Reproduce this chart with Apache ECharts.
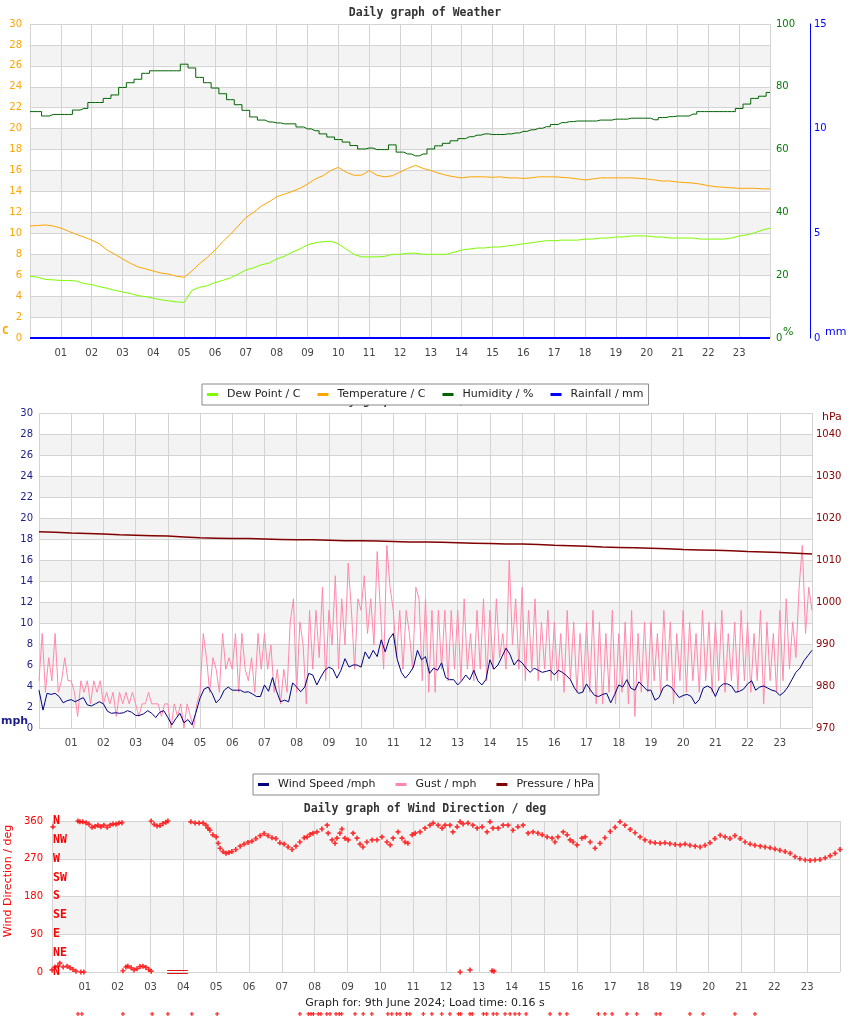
<!DOCTYPE html>
<html><head><meta charset="utf-8">
<script src="https://cdn.jsdelivr.net/npm/echarts@6/dist/echarts.min.js"></script>
<style>html,body{margin:0;padding:0;background:#fff}#c{width:850px;height:1017px}</style>
</head><body><div id="c"></div>
<script>
// ---------- DATA ----------
const hourLabels = ['01','02','03','04','05','06','07','08','09','10','11','12','13','14','15','16','17','18','19','20','21','22','23'];
const compassLabels = ['N','NE','E','SE','S','SW','W','NW','N'];

// weather chart, one reading every 0.25 h (0..24)
const dewPoint = [5.9,5.8,5.6,5.55,5.5,5.5,5.45,5.2,5.1,4.9,
 4.75,4.55,4.4,4.25,4.05,3.95,3.8,3.65,3.55,3.45,
 3.4,4.55,4.85,5.0,5.3,5.5,5.75,6.1,6.5,6.7,
 7.0,7.15,7.55,7.8,8.2,8.5,8.9,9.1,9.2,9.25,
 9.0,8.5,8.0,7.75,7.75,7.75,7.8,8.0,8.0,8.1,
 8.1,8.0,8.0,8.0,8.0,8.2,8.4,8.5,8.6,8.6,
 8.7,8.7,8.8,8.9,9.0,9.1,9.2,9.3,9.3,9.35,
 9.35,9.35,9.45,9.45,9.55,9.55,9.65,9.65,9.75,9.75,
 9.75,9.65,9.65,9.55,9.55,9.55,9.55,9.45,9.45,9.45,
 9.45,9.55,9.75,9.85,10.05,10.3,10.5];
const temperature = [10.7,10.75,10.8,10.7,10.5,10.2,9.9,9.65,9.35,9.0,
 8.4,8.0,7.55,7.15,6.8,6.6,6.4,6.2,6.1,5.9,
 5.8,6.4,7.1,7.7,8.4,9.2,9.9,10.7,11.5,12.0,
 12.6,13.0,13.5,13.75,14.0,14.3,14.7,15.2,15.5,16.0,
 16.3,15.85,15.55,15.55,16.0,15.55,15.4,15.5,15.85,16.2,
 16.5,16.2,16.0,15.75,15.55,15.4,15.3,15.4,15.4,15.4,
 15.35,15.4,15.3,15.3,15.25,15.3,15.4,15.4,15.4,15.35,
 15.3,15.2,15.1,15.2,15.3,15.3,15.3,15.3,15.3,15.25,
 15.2,15.1,15.0,15.0,14.9,14.85,14.8,14.7,14.55,14.45,
 14.4,14.35,14.3,14.3,14.3,14.25,14.25];
const humidity = [72.1,72.1,70.7,71.2,71.2,71.2,72.6,73.1,75,75,
 76.3,77.4,79.8,81.3,82.4,84.3,85.1,85.1,85.1,85.1,
 87.2,86,83,81.3,79.6,77.8,75.9,74.3,72.5,70.4,
 69.4,68.8,68.5,68.2,68.2,67.2,66.6,66,65,64,
 63.2,62.4,61.3,60.2,60.5,60,60,61.5,59.2,58.6,
 58,58.6,60.2,61.2,62,62.8,63.5,64.1,64.6,65,
 64.8,64.8,65,65.3,65.8,66.3,66.8,67.3,68,68.6,
 68.9,69.1,69.1,69.1,69.4,69.4,69.7,69.7,70,70,
 70,69.5,70.2,70.5,70.7,70.7,71.3,72.1,72.1,72.1,
 72.1,72.1,73.1,74.5,76.3,77,78.2];
const rainfall = [0,0,0,0,0,0,0,0,0,0,0,0,0,0,0,0,0,0,0,0,0,0,0,0,0,0,0,0,0,0,0,0,0,0,0,0,0,0,0,0,0,0,0,0,0,0,0,0,0];

// wind chart: speed every 0.125 h, gust every 0.1 h, pressure every 0.5 h
const windSpeed = [3.6,1.7,3.3,3.2,3.3,3.0,2.4,2.6,2.7,2.5,2.7,2.9,2.2,2.1,2.3,2.5,2.3,1.6,1.4,1.45,
 1.4,1.45,1.65,1.5,1.2,1.2,1.35,1.65,1.4,1.0,1.5,1.65,1.0,0.3,0.9,1.4,0.5,0.8,0.3,1.5,
 2.85,3.7,3.9,3.3,2.4,2.8,3.6,3.9,3.6,3.6,3.6,3.4,3.45,3.25,3.0,3.0,4.1,3.5,4.8,3.5,
 2.5,2.65,2.5,4.3,3.9,3.45,3.9,5.2,5.05,4.1,4.85,5.5,5.8,5.6,4.75,5.5,6.6,5.8,6.0,6.0,
 5.8,7.25,6.6,7.4,6.8,8.4,7.25,8.5,9.0,6.5,5.3,4.75,5.2,5.8,7.4,6.5,6.8,5.2,5.7,5.5,
 6.2,4.8,4.6,4.6,4.1,4.5,5.05,4.6,5.5,4.5,4.1,4.6,6.5,5.6,6.0,6.8,7.6,7.0,6.0,6.5,
 6.2,5.7,5.3,5.7,5.5,5.3,5.4,5.5,5.05,5.5,5.3,5.0,4.6,3.8,3.3,3.4,4.2,3.6,3.1,3.0,
 3.2,3.3,2.4,3.2,4.1,3.9,4.6,3.8,3.6,4.4,4.0,3.6,3.6,2.65,2.9,3.8,4.1,3.9,3.4,2.9,
 3.1,3.2,3.0,2.3,2.7,3.8,4.0,3.8,3.0,3.9,4.2,4.2,4.0,3.4,3.5,3.7,4.2,4.5,3.6,3.9,
 4.0,3.8,3.6,3.5,3.1,3.4,3.9,4.6,5.3,5.7,6.4,6.9,7.4];
const gust = [4.5,9.0,3.4,6.7,4.5,9.0,3.4,4.5,6.7,4.5,
 4.5,3.4,1.1,4.5,3.4,4.5,2.3,4.5,3.4,4.5,
 2.3,3.4,2.3,3.4,1.1,3.4,2.3,3.4,2.3,3.4,
 2.3,1.1,2.3,2.3,3.4,2.3,2.3,2.3,1.1,2.3,
 2.3,0.0,2.3,1.1,2.3,0.0,2.3,1.1,0.0,2.3,
 3.4,9.0,6.7,3.4,6.7,5.6,3.4,9.0,5.6,6.7,
 5.6,9.0,3.4,9.0,5.6,4.5,6.7,3.4,9.0,5.6,
 9.0,5.6,7.9,3.4,5.6,2.3,5.6,3.4,10.1,12.3,
 3.4,10.1,7.9,2.3,11.2,5.6,11.2,6.7,13.4,4.5,
 11.2,7.9,14.5,5.6,12.3,7.9,15.7,11.2,5.6,12.3,
 11.2,14.5,9.0,12.3,7.9,16.8,11.2,5.6,17.4,13.4,
 11.2,6.7,11.2,5.6,11.2,9.0,5.6,13.4,12.3,4.5,
 12.3,3.4,11.2,3.4,11.2,5.6,11.2,4.5,11.2,5.6,
 11.2,4.5,12.3,5.6,9.0,4.5,11.2,5.6,12.3,4.5,
 11.2,5.6,12.3,6.7,9.0,5.6,16.0,7.9,12.3,5.6,
 13.4,4.5,11.2,5.6,12.3,4.5,10.1,5.6,11.2,4.5,
 10.1,4.5,9.0,3.4,11.2,4.5,10.1,3.4,9.0,3.4,
 10.1,3.4,11.2,2.3,10.1,2.3,9.0,3.4,11.2,2.3,
 9.0,3.4,10.1,2.3,11.2,1.1,9.0,3.4,10.1,3.4,
 10.1,4.5,9.0,3.4,11.2,4.5,10.1,2.3,9.0,4.5,
 11.2,3.4,10.1,4.5,9.0,3.4,11.2,4.5,10.1,3.4,
 10.1,4.5,11.2,3.4,9.0,4.5,10.1,3.4,11.2,4.5,
 10.1,3.4,9.0,4.5,11.2,2.3,10.1,4.5,9.0,3.4,
 11.2,4.5,12.3,5.6,10.1,6.7,13.4,17.4,9.0,13.4,
 11.2];
const pressure = [1016.7,1016.6,1016.4,1016.3,1016.2,1016.0,1015.9,1015.8,1015.7,1015.5,1015.3,1015.2,1015.1,1015.1,1015.0,1014.9,1014.8,1014.8,1014.7,1014.6,1014.6,1014.5,1014.4,1014.3,1014.3,1014.2,1014.1,1014.0,1013.9,1013.8,1013.8,1013.7,1013.5,1013.4,1013.3,1013.1,1013.0,1012.9,1012.8,1012.7,1012.5,1012.4,1012.3,1012.2,1012.0,1011.9,1011.8,1011.6,1011.4];

// wind direction readings (hour, degrees)
const dirHours = [0.0,0.03,0.09,0.18,0.24,0.34,0.46,0.55,0.64,0.73,0.88,0.97,
 0.79,0.85,0.94,1.04,1.13,1.22,1.31,1.40,1.49,1.58,1.68,1.77,1.86,1.95,2.04,2.13,
 2.16,2.25,2.31,2.41,2.50,2.59,2.68,2.77,2.86,2.95,3.02,
 3.02,3.11,3.20,3.29,3.38,3.47,3.53,
 4.23,4.36,4.48,4.60,4.69,4.75,4.81,4.90,5.0,5.06,5.12,5.21,5.30,5.39,5.48,5.60,5.73,5.85,5.97,
 6.09,6.21,6.34,6.46,6.58,6.70,6.82,6.94,7.07,7.19,7.31,7.43,7.55,7.68,7.77,7.86,7.95,
 8.07,8.22,8.38,8.41,8.53,8.62,8.68,8.77,8.83,8.92,9.02,9.17,9.29,9.38,9.47,9.59,9.75,9.90,
 10.05,10.20,10.30,10.39,10.54,10.66,10.75,10.84,10.97,11.06,11.21,11.36,11.51,11.61,11.76,11.88,11.97,
 12.12,12.21,12.34,12.43,12.52,12.67,12.82,12.95,13.10,13.25,13.34,13.43,13.59,13.74,13.89,
 14.04,14.19,14.35,14.50,14.65,14.80,14.93,15.08,15.23,15.32,15.41,15.57,15.69,15.78,15.87,15.99,
 16.14,16.24,16.39,16.54,16.69,16.84,17.0,17.15,17.30,17.45,17.61,17.76,17.91,
 18.06,18.22,18.37,18.52,18.67,18.82,18.98,19.13,19.28,19.43,19.59,19.74,19.89,
 20.04,20.19,20.35,20.50,20.65,20.80,20.96,21.11,21.26,21.41,21.57,21.72,21.87,
 22.02,22.17,22.33,22.48,22.63,22.78,22.94,23.09,23.24,23.39,23.55,23.70,23.85,24.0,
 12.43,12.73,13.40,13.46];
const dirDegrees = [5,346,12,14,21,12,14,10,6,2,0,0,
 360,358,358,356,352,345,347,350,346,350,345,350,353,352,355,356,
 3,12,14,10,5,8,13,14,11,6,2,
 360,352,348,349,354,357,360,
 358,355,355,355,350,343,338,327,322,307,295,287,283,285,287,292,300,305,309,
 312,318,325,330,325,320,318,308,305,298,292,300,310,320,322,328,331,
 334,341,350,331,315,307,319,331,341,319,315,331,319,305,298,310,315,315,
 322,310,303,319,334,319,310,307,327,331,334,343,350,355,350,343,350,
 350,334,346,358,353,355,350,343,346,334,358,343,343,350,350,
 338,346,350,331,334,331,327,322,319,310,322,334,327,315,310,303,
 319,322,310,295,307,320,335,345,358,350,340,332,322,
 315,310,308,307,308,306,304,303,305,302,300,298,302,
 308,318,326,322,318,325,318,310,305,302,300,298,296,
 293,290,287,283,275,270,267,266,267,268,272,277,283,292,
 0,5,3,2];
// calm run of readings at 0 deg
const dirCalmHours = [3.55,3.6,3.65,3.7,3.75,3.8,3.85,3.9,3.95,4.0,4.05,4.1];
const dirCalmDegrees = [0,0,0,0,0,0,0,0,0,0,0,0];
// readings that fall below the chart
const dirOffHours = [0.79,0.91,2.16,3.05,3.53,4.26,5.03,7.55,7.81,7.89,7.96,8.11,8.19,8.37,8.47,8.65,8.75,8.82,9.23,9.48,9.74,10.23,10.35,10.50,10.60,10.80,10.90,11.31,11.57,11.87,12.12,12.38,12.45,12.73,12.80,13.14,13.24,13.44,13.55,13.80,13.95,14.10,14.23,14.44,15.17,15.47,15.68,16.64,16.84,17.06,17.51,17.81,18.40,18.52,19.43,19.83,20.80,21.41];
const dirOffDegrees = [-100,-100,-100,-100,-100,-100,-100,-100,-100,-100,-100,-100,-100,-100,-100,-100,-100,-100,-100,-100,-100,-100,-100,-100,-100,-100,-100,-100,-100,-100,-100,-100,-100,-100,-100,-100,-100,-100,-100,-100,-100,-100,-100,-100,-100,-100,-100,-100,-100,-100,-100,-100,-100,-100,-100,-100,-100,-100];

// ---------- BUILD ----------
function series(step, vals){ return vals.map((v,i)=>[+(i*step).toFixed(4), v]); }
function pairs(xs, ys){ return xs.map((x,i)=>[x, ys[i]]); }

const grid = '#d4d4d4', band = ['#ffffff','#f3f3f3'];
const FONT = 'DejaVu Sans', MONO = 'DejaVu Sans Mono';
const PLUS = 'path://M2,0H4V2H6V4H4V6H2V4H0V2H2Z';
const BARS = 'path://M0,0H10V1H0Z M0,3H10V4H0Z';
function xAx(gi, margin){
  return {type:'value', gridIndex:gi, min:0, max:24, interval:1,
    axisLine:{show:false}, axisTick:{show:false},
    splitLine:{show:true, lineStyle:{color:grid}},
    axisLabel:{color:'#444', fontSize:10, fontFamily:FONT, margin:margin,
      formatter:v=> (v>=1 && v<=23) ? hourLabels[v-1] : ''}};
}
const chart = echarts.init(document.getElementById('c'), null, {renderer:'canvas'});
chart.setOption({
  animation:false,
  backgroundColor:'#fff',
  title:[
    {text:'Daily graph of Weather', left:'center', top:7, padding:0, textStyle:{fontFamily:MONO, fontWeight:'bold', fontSize:11.5, color:'#333'}},
    {text:'Daily graph of Wind / Pressure', left:'center', top:395, padding:0, textStyle:{fontFamily:MONO, fontWeight:'bold', fontSize:11.5, color:'#333'}},
    {text:'Daily graph of Wind Direction / deg', left:'center', top:803, padding:0, textStyle:{fontFamily:MONO, fontWeight:'bold', fontSize:11.5, color:'#333'}},
    {text:'Graph for: 9th June 2024; Load time: 0.16 s', left:'center', top:998, padding:0, textStyle:{fontFamily:FONT, fontWeight:'normal', fontSize:11, color:'#222'}}
  ],
  legend:[
    {data:['Dew Point / C','Temperature / C','Humidity / %','Rainfall / mm'], left:202, top:384, z:20,
     backgroundColor:'#fff', borderColor:'#888', borderWidth:1, padding:[5,5,5,5], itemGap:17,
     icon:'rect', itemWidth:11, itemHeight:3, textStyle:{fontFamily:FONT, fontSize:11, color:'#222', padding:[0,0,0,4]}},
    {data:['Wind Speed /mph','Gust / mph','Pressure / hPa'], left:253, top:774, z:20,
     backgroundColor:'#fff', borderColor:'#888', borderWidth:1, padding:[5,5,5,5], itemGap:20,
     icon:'rect', itemWidth:11, itemHeight:3, textStyle:{fontFamily:FONT, fontSize:11, color:'#222', padding:[0,0,0,4]}}
  ],
  grid:[
    {left:30, top:24, width:740, height:314},
    {left:39, top:413, width:773, height:315},
    {left:52, top:821, width:788, height:151}
  ],
  xAxis:[xAx(0,10), xAx(1,10), xAx(2,10)],
  yAxis:[
    {type:'value', gridIndex:0, position:'left', min:0, max:30, interval:2,
     axisLine:{show:false}, axisTick:{show:false},
     axisLabel:{color:'#ffa500', fontSize:10, fontFamily:FONT, margin:8},
     splitLine:{show:true, lineStyle:{color:grid}}, splitArea:{show:true, areaStyle:{color:band}}},
    {type:'value', gridIndex:0, position:'right', min:0, max:100, interval:20,
     axisLine:{show:false}, axisTick:{show:false}, splitLine:{show:false},
     axisLabel:{color:'#0a7a0a', fontSize:10, fontFamily:FONT, margin:6}},
    {type:'value', gridIndex:0, position:'right', offset:40, min:0, max:15, interval:5,
     axisLine:{show:true, lineStyle:{color:'#0000ff', width:1}}, axisTick:{show:false}, splitLine:{show:false},
     axisLabel:{color:'#0000ff', fontSize:10, fontFamily:FONT, margin:4}},
    {type:'value', gridIndex:1, position:'left', min:0, max:30, interval:2,
     axisLine:{show:false}, axisTick:{show:false},
     axisLabel:{color:'#1c1c8c', fontSize:10, fontFamily:FONT, margin:6},
     splitLine:{show:true, lineStyle:{color:grid}}, splitArea:{show:true, areaStyle:{color:band}}},
    {type:'value', gridIndex:1, position:'right', min:970, max:1045, interval:10,
     axisLine:{show:false}, axisTick:{show:false}, splitLine:{show:false},
     axisLabel:{color:'#8b0000', fontSize:10, fontFamily:FONT, margin:4, showMaxLabel:false,
       formatter:v=> v>1040 ? '' : String(v)}},
    {type:'value', gridIndex:2, position:'left', min:0, max:360, interval:90,
     axisLine:{show:false}, axisTick:{show:false},
     axisLabel:{color:'#ff0000', fontSize:10, fontFamily:FONT, margin:9},
     splitLine:{show:true, lineStyle:{color:grid}}, splitArea:{show:true, areaStyle:{color:band}}},
    {type:'value', gridIndex:2, position:'left', min:0, max:360, interval:45,
     axisLine:{show:false}, axisTick:{show:false}, splitLine:{show:false},
     axisLabel:{inside:true, margin:1, color:'#ff0000', fontSize:11.5, fontFamily:MONO, fontWeight:'bold',
       formatter:v=> compassLabels[Math.round(v/45)]}}
  ],
  series:[
    {name:'Dew Point / C', type:'line', xAxisIndex:0, yAxisIndex:0, data:series(0.25, dewPoint), showSymbol:false, lineStyle:{width:1, color:'#7cfc00'}, itemStyle:{color:'#7cfc00'}},
    {name:'Temperature / C', type:'line', xAxisIndex:0, yAxisIndex:0, data:series(0.25, temperature), showSymbol:false, lineStyle:{width:1, color:'#ffa500'}, itemStyle:{color:'#ffa500'}},
    {name:'Humidity / %', type:'line', step:'middle', xAxisIndex:0, yAxisIndex:1, data:series(0.25, humidity), showSymbol:false, lineStyle:{width:1, color:'#006400'}, itemStyle:{color:'#006400'}},
    {name:'Rainfall / mm', type:'line', xAxisIndex:0, yAxisIndex:2, data:series(0.5, rainfall), showSymbol:false, lineStyle:{width:2, color:'#0000ff'}, itemStyle:{color:'#0000ff'}},
    {name:'Gust / mph', type:'line', xAxisIndex:1, yAxisIndex:3, data:series(0.1, gust), showSymbol:false, lineStyle:{width:1, color:'#ff88aa'}, itemStyle:{color:'#ff88aa'}},
    {name:'Wind Speed /mph', type:'line', xAxisIndex:1, yAxisIndex:3, data:series(0.125, windSpeed), showSymbol:false, lineStyle:{width:1, color:'#000080'}, itemStyle:{color:'#000080'}},
    {name:'Pressure / hPa', type:'line', xAxisIndex:1, yAxisIndex:4, data:series(0.5, pressure), showSymbol:false, lineStyle:{width:1.5, color:'#800000'}, itemStyle:{color:'#800000'}},
    {name:'Wind Direction', type:'scatter', xAxisIndex:2, yAxisIndex:5, data:pairs(dirHours, dirDegrees),
     symbol:PLUS, symbolSize:5, itemStyle:{color:'#ff0000'}},
    {name:'Wind Direction calm', type:'scatter', xAxisIndex:2, yAxisIndex:5, data:pairs(dirCalmHours, dirCalmDegrees), clip:false,
     symbol:BARS, symbolSize:[3,4], itemStyle:{color:'#e00000'}},
    {name:'Wind Direction below', type:'scatter', xAxisIndex:2, yAxisIndex:5, data:pairs(dirOffHours, dirOffDegrees), clip:false,
     symbol:PLUS, symbolSize:4, itemStyle:{color:'#ff0000'}}
  ],
  graphic:[
    {type:'text', left:2, top:326, style:{text:'C', fill:'#ffa500', font:'bold 11px "DejaVu Sans Mono"'}},
    {type:'text', left:783, top:327, style:{text:'%', fill:'#0a7a0a', font:'11px "DejaVu Sans"'}},
    {type:'text', left:825, top:327, style:{text:'mm', fill:'#0000ff', font:'11px "DejaVu Sans"'}},
    {type:'text', left:1, top:716, style:{text:'mph', fill:'#1c1c8c', font:'bold 11px "DejaVu Sans"'}},
    {type:'text', left:822, top:412, style:{text:'hPa', fill:'#8b0000', font:'11px "DejaVu Sans"'}},
    {type:'text', x:8, y:881, rotation:Math.PI/2, style:{text:'Wind Direction / deg', fill:'#ff0000', font:'11px "DejaVu Sans"', align:'center', verticalAlign:'middle'}}
  ]
});
</script>
</body></html>
